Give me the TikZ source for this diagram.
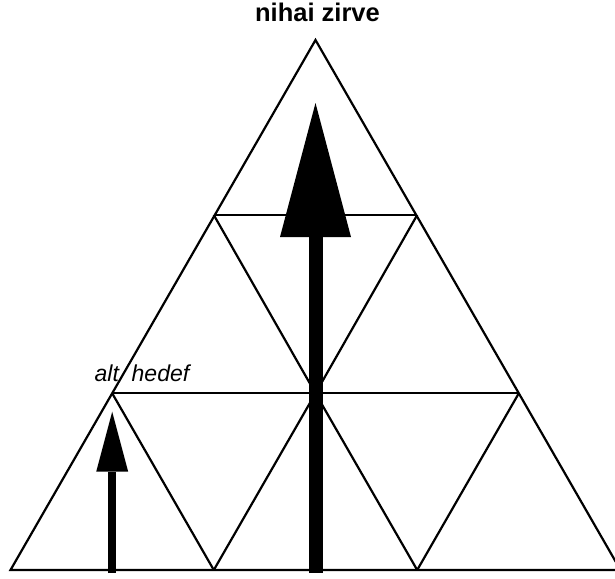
\documentclass[tikz,border=0pt]{standalone}
\usepackage{fontspec}
\setmainfont{Liberation Sans}
\usetikzlibrary{arrows.meta}
\tikzset{
  edge/.style={line width=2.2pt, line join=miter, line cap=butt},
  bigarrow/.style={line width=14pt, -{Triangle[width=71pt,length=134pt,line width=0pt]}},
  smallarrow/.style={line width=8pt, -{Triangle[width=32pt,length=60pt,line width=0pt]}},
  title/.style={font=\fontsize{25.5}{30}\selectfont\bfseries, inner sep=0pt},
  note/.style={font=\fontsize{23}{27}\selectfont\itshape, inner sep=0pt}
}
\begin{document}
\begin{tikzpicture}[x=1pt,y=-1pt]
  \useasboundingbox (0,0) rectangle (615,578);
  \clip (0,0) rectangle (615,578);
  % grid points of the subdivided triangle
  \coordinate (T)  at (315.5,40);
  \coordinate (a1) at (213.8,215);
  \coordinate (b1) at (417.2,215);
  \coordinate (a2) at (112.2,393.3);
  \coordinate (m2) at (315.5,393.3);
  \coordinate (b2) at (518.8,393.3);
  \coordinate (L)  at (10.5,570);
  \coordinate (p)  at (213.8,570);
  \coordinate (q)  at (417.2,570);
  \coordinate (R)  at (620.5,570);
  % outer triangle
  \draw[edge] (T) -- (L) -- (R) -- cycle;
  % horizontal divisions
  \draw[edge] (a1) -- (b1);
  \draw[edge] (a2) -- (b2);
  % diagonal divisions
  \draw[edge] (a1) -- (m2) -- (q);
  \draw[edge] (b1) -- (m2) -- (p);
  \draw[edge] (a2) -- (p);
  \draw[edge] (b2) -- (q);
  % arrows
  \coordinate (bigfoot) at (315.5,573);
  \coordinate (bigtip)  at (315.5,103);
  \coordinate (smallfoot) at (112.2,573);
  \coordinate (smalltip)  at (112.2,411.7);
  \draw[bigarrow] (bigfoot) -- (bigtip);
  \draw[smallarrow] (smallfoot) -- (smalltip);
  % labels
  \node[title, anchor=base] (peak) at (317.5,22) {nihai zirve};
  \node[note, anchor=base west] (alt) at (94.5,381) {alt};
  \node[note, anchor=base west] (hedef) at (131.5,381) {hedef};
\end{tikzpicture}
\end{document}
